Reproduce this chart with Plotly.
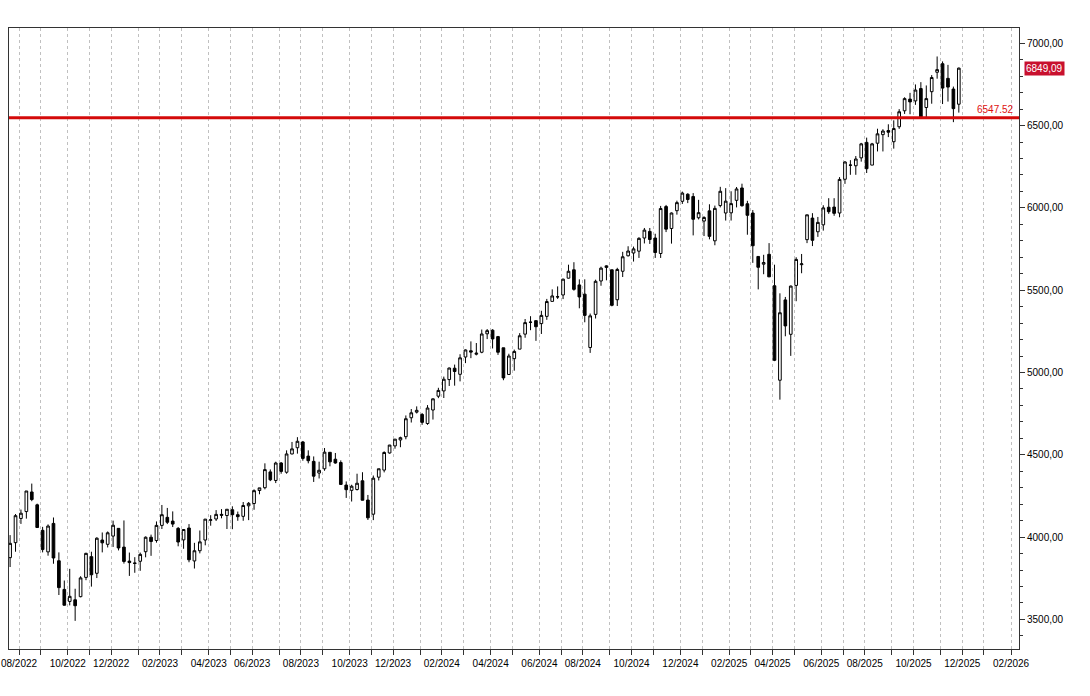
import pandas as pd
import plotly.graph_objects as go

# Weekly OHLC (week ending Friday), from 2022-07-22 to 2025-11-28
open_ = [
    3875, 3966, 4113, 4155, 4274, 4196, 4041, 3910, 4083, 3856, 3682, 3609,
    3619, 3638, 3755, 3881, 3780, 3982, 3956, 4006, 4053, 3939, 3854, 3843,
    # 2023
    3853, 3911, 3999, 3979, 4071, 4120, 4097, 4053, 3983, 4055, 3855, 3917,
    3982, 4102, 4110, 4138, 4131, 4166, 4136, 4126, 4190, 4204, 4283, 4300,
    4396, 4344, 4450, 4394, 4505, 4543, 4578, 4492, 4460, 4389, 4415, 4515,
    4473, 4453, 4316, 4284, 4289, 4342, 4225, 4139, 4364, 4407, 4511, 4554,
    4590, 4610, 4725, 4759,
    # 2024
    4745, 4690, 4772, 4856, 4888, 4957, 5026, 4989, 5094, 5132, 5111, 5123,
    5235, 5257, 5218, 5150, 4988, 5084, 5142, 5233, 5306, 5315, 5297, 5341,
    5432, 5459, 5471, 5573, 5624, 5532, 5476, 5152, 5353, 5556, 5638, 5624,
    5442, 5615, 5709, 5726, 5737, 5817, 5857, 5817, 5723, 6008, 5875, 5983,
    6040, 6083, 6069, 5940,
    # 2025
    5920, 5982, 5800, 6014, 5969, 5970, 6046, 6121, 6025, 5969, 5705, 5658,
    5718, 5527, 4953, 5441, 5232, 5529, 5655, 5807, 5938, 5855, 5897, 6004,
    6005, 5969, 6174, 6259, 6256, 6304, 6398, 6260, 6393, 6445, 6470, 6402,
    6493, 6590, 6661, 6650, 6725, 6610, 6706, 6824, 6876, 6787, 6722, 6630,
]
high = [
    4012, 4140, 4167, 4280, 4325, 4203, 4062, 4077, 4119, 3907, 3736, 3807,
    3686, 3762, 3905, 3911, 3999, 4028, 4034, 4100, 4053, 4101, 3906, 3878,
    # 2023
    3906, 4004, 4015, 4095, 4195, 4177, 4156, 4061, 4048, 4079, 3965, 4040,
    4110, 4133, 4164, 4170, 4170, 4187, 4155, 4213, 4213, 4290, 4299, 4448,
    4411, 4458, 4456, 4527, 4578, 4607, 4584, 4527, 4490, 4458, 4541, 4515,
    4511, 4466, 4338, 4318, 4385, 4394, 4256, 4374, 4415, 4521, 4560, 4595,
    4610, 4739, 4778, 4794,
    # 2024
    4754, 4802, 4842, 4907, 4975, 5030, 5048, 5111, 5140, 5189, 5179, 5261,
    5264, 5263, 5222, 5150, 5114, 5139, 5239, 5325, 5342, 5315, 5375, 5447,
    5505, 5523, 5570, 5655, 5670, 5566, 5566, 5358, 5564, 5643, 5651, 5624,
    5636, 5733, 5767, 5765, 5822, 5878, 5878, 5843, 6012, 6018, 5972, 6044,
    6099, 6089, 6090, 6049,
    # 2025
    5949, 6022, 6014, 6128, 6120, 6101, 6127, 6147, 6043, 5987, 5705, 5715,
    5786, 5655, 5481, 5459, 5528, 5700, 5720, 5958, 5968, 5945, 6016, 6059,
    6059, 6187, 6284, 6290, 6315, 6395, 6427, 6395, 6481, 6478, 6508, 6532,
    6600, 6672, 6699, 6750, 6764, 6744, 6807, 6920, 6890, 6869, 6737, 6853,
]
low = [
    3818, 3911, 4080, 4112, 4218, 4057, 3907, 3887, 3838, 3648, 3584, 3585,
    3491, 3634, 3738, 3699, 3751, 3907, 3937, 3940, 3919, 3839, 3764, 3783,
    # 2023
    3795, 3877, 3886, 3966, 4049, 4079, 4061, 3944, 3929, 3847, 3809, 3901,
    3950, 4069, 4098, 4114, 4049, 4048, 4099, 4099, 4103, 4166, 4260, 4290,
    4340, 4328, 4385, 4385, 4503, 4507, 4464, 4448, 4335, 4356, 4403, 4430,
    4446, 4317, 4238, 4216, 4283, 4223, 4104, 4103, 4344, 4393, 4507, 4537,
    4546, 4594, 4696, 4751,
    # 2024
    4682, 4682, 4714, 4844, 4845, 4918, 4920, 4946, 5057, 5087, 5104, 5117,
    5203, 5146, 5107, 4953, 4987, 5011, 5142, 5211, 5257, 5192, 5234, 5320,
    5432, 5447, 5446, 5571, 5497, 5390, 5305, 5119, 5328, 5527, 5560, 5402,
    5404, 5580, 5705, 5674, 5696, 5784, 5781, 5696, 5696, 5853, 5783, 5959,
    6024, 6029, 5833, 5930,
    # 2025
    5829, 5809, 5773, 6003, 5923, 5923, 6003, 6008, 5837, 5666, 5505, 5597,
    5581, 5069, 4835, 5220, 5101, 5433, 5603, 5786, 5768, 5824, 5862, 5964,
    5952, 5943, 6146, 6201, 6201, 6281, 6212, 6260, 6343, 6343, 6430, 6360,
    6480, 6571, 6569, 6626, 6550, 6552, 6633, 6785, 6631, 6646, 6521, 6579,
]
close = [
    3962, 4130, 4145, 4280, 4228, 4058, 3924, 4067, 3873, 3693, 3586, 3640,
    3583, 3752, 3901, 3771, 3993, 3965, 4026, 4072, 3934, 3852, 3845, 3840,
    # 2023
    3895, 3999, 3973, 4071, 4136, 4090, 4079, 3970, 4046, 3862, 3917, 3971,
    4109, 4105, 4138, 4133, 4169, 4136, 4124, 4192, 4205, 4282, 4299, 4410,
    4348, 4450, 4399, 4505, 4536, 4582, 4478, 4464, 4370, 4406, 4516, 4457,
    4450, 4320, 4288, 4309, 4327, 4224, 4117, 4358, 4415, 4514, 4559, 4595,
    4604, 4719, 4755, 4770,
    # 2024
    4697, 4784, 4840, 4891, 4959, 5027, 5006, 5089, 5137, 5124, 5117, 5234,
    5254, 5204, 5123, 4967, 5100, 5128, 5223, 5303, 5305, 5278, 5347, 5431,
    5465, 5460, 5567, 5615, 5505, 5459, 5347, 5344, 5554, 5634, 5648, 5408,
    5626, 5703, 5738, 5751, 5815, 5865, 5808, 5729, 5996, 5871, 5969, 6032,
    6090, 6051, 5931, 5971,
    # 2025
    5942, 5827, 5997, 6101, 6041, 6026, 6115, 6013, 5955, 5770, 5639, 5668,
    5581, 5074, 5363, 5283, 5525, 5687, 5660, 5958, 5803, 5912, 6000, 5977,
    5967, 6173, 6279, 6260, 6297, 6389, 6238, 6389, 6450, 6467, 6460, 6482,
    6584, 6664, 6644, 6716, 6553, 6664, 6792, 6840, 6728, 6734, 6603, 6849.09,
]
assert len(open_) == len(high) == len(low) == len(close)

level = 6547.52
last_close = close[-1]

month_labels = [
    "08/2022", "10/2022", "12/2022", "02/2023", "04/2023", "06/2023",
    "08/2023", "10/2023", "12/2023", "02/2024", "04/2024", "06/2024",
    "08/2024", "10/2024", "12/2024", "02/2025", "04/2025", "06/2025",
    "08/2025", "10/2025", "12/2025", "02/2026",
]

week_end = pd.date_range("2022-07-22", periods=len(close), freq="W-FRI")
x = week_end - pd.Timedelta(hours=36)

# monthly ticks at the start of the first weekly bar of each month
tickvals, ticktext = [], []
for m in pd.date_range("2022-08-01", "2026-02-01", freq="MS"):
    fri = m + pd.Timedelta(days=(4 - m.weekday()) % 7)
    tickvals.append(fri - pd.Timedelta(days=4))
    lab = m.strftime("%m/%Y")
    ticktext.append(lab if lab in month_labels else "")

fig = go.Figure(
    go.Candlestick(
        x=x, open=open_, high=high, low=low, close=close,
        increasing=dict(line=dict(color="black", width=1), fillcolor="white"),
        decreasing=dict(line=dict(color="black", width=1), fillcolor="black"),
        whiskerwidth=0,
        showlegend=False,
    )
)

axis_col = "#333333"
fig.update_layout(
    width=1090, height=696,
    margin=dict(l=9, r=71, t=28, b=47, autoexpand=False),
    paper_bgcolor="white", plot_bgcolor="white",
    separators=",.",
    font=dict(family="Arial, Liberation Sans, sans-serif", size=10, color="black"),
    showlegend=False,
    xaxis=dict(
        type="date",
        range=["2022-07-19 02:00", "2026-02-12 05:00"],
        rangeslider=dict(visible=False),
        tickmode="array", tickvals=tickvals, ticktext=ticktext,
        ticks="outside", ticklen=5, tickcolor=axis_col,
        showgrid=True, gridcolor="#c0c0c0", griddash="dot", gridwidth=1,
        showline=True, linecolor=axis_col, linewidth=1, mirror=True,
        zeroline=False, automargin=False,
        tickfont=dict(size=10),
    ),
    yaxis=dict(
        side="right",
        range=[3320, 7093],
        tick0=0, dtick=500, tickformat=".2f",
        ticks="outside", ticklen=5, tickcolor=axis_col,
        minor=dict(dtick=100, tick0=0, ticks="outside", ticklen=3,
                   tickcolor=axis_col, showgrid=False),
        showgrid=False,
        showline=True, linecolor=axis_col, linewidth=1, mirror=True,
        zeroline=False, automargin=False,
        tickfont=dict(size=10),
    ),
)

fig.add_shape(
    type="line", xref="paper", x0=0, x1=1, yref="y", y0=level, y1=level,
    line=dict(color="#d40a0a", width=3), layer="above",
)

fig.add_annotation(
    text=f"{level:.2f}", xref="paper", x=1, xanchor="right", xshift=-3,
    yref="y", y=level, yanchor="bottom", yshift=1,
    showarrow=False, font=dict(color="#e01010", size=10),
)
fig.add_annotation(
    text=f"{last_close:.2f}".replace(".", ","), xref="paper", x=1,
    xanchor="left", xshift=5, yref="y", y=last_close, yanchor="middle",
    showarrow=False, font=dict(color="white", size=10),
    bgcolor="#c8102e", borderpad=1,
)

fig.write_html(
    "out.html",
    config={"displayModeBar": False},
    post_script="document.body.style.margin='0';",
)
